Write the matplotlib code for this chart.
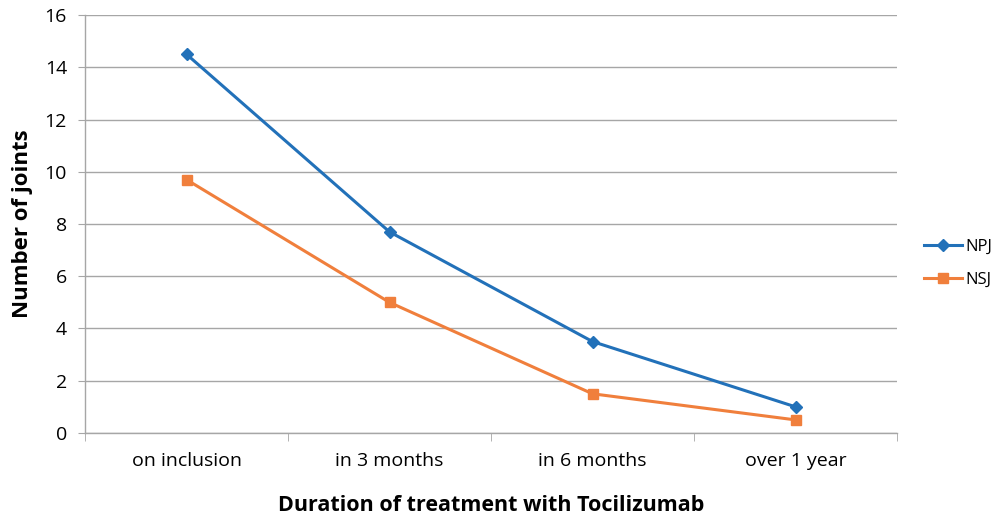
import matplotlib
matplotlib.use('Agg')
import matplotlib.pyplot as plt
from matplotlib.ticker import FixedLocator

plt.rcParams['font.family'] = ['Open Sans', 'DejaVu Sans']

# data
categories = ['on inclusion', 'in 3 months', 'in 6 months', 'over 1 year']
npj = [14.5, 7.7, 3.5, 1.0]
nsj = [9.7, 5.0, 1.5, 0.5]
y_ticks = [0, 2, 4, 6, 8, 10, 12, 14, 16]

blue = '#2271B9'
orange = '#F07F3C'
grid_col = '#A6A6A6'

fig = plt.figure(figsize=(10, 5.21), dpi=100)
ax = fig.add_axes([0.085, 0.169, 0.812, 0.802])

x = list(range(len(categories)))
ax.plot(x, npj, color=blue, lw=2.2, marker='D', ms=6, label='NPJ')
ax.plot(x, nsj, color=orange, lw=2.2, marker='s', ms=7, label='NSJ')

ax.set_xlim(-0.5, len(categories) - 0.5)
ax.set_ylim(0, 16)
ax.set_yticks(y_ticks)
ax.yaxis.grid(True, color=grid_col, lw=1)
ax.set_axisbelow(True)

# category labels centred, tick marks at category boundaries
ax.set_xticks(x)
ax.set_xticklabels(categories)
ax.xaxis.set_minor_locator(FixedLocator([i - 0.5 for i in range(len(categories) + 1)]))
ax.tick_params(axis='x', which='major', length=0, pad=14, labelsize=14)
ax.tick_params(axis='x', which='minor', length=6, color=grid_col, direction='out')
ax.tick_params(axis='y', length=5, color=grid_col, labelsize=14, pad=8)

for s in ['top', 'right']:
    ax.spines[s].set_visible(False)
for s in ['left', 'bottom']:
    ax.spines[s].set_color(grid_col)
    ax.spines[s].set_linewidth(1)

ax.set_xlabel('Duration of treatment with Tocilizumab', fontsize=15.5, fontweight='bold', labelpad=18)
ax.set_ylabel('Number of joints', fontsize=16, fontweight='bold', labelpad=8)

ax.legend(loc='center left', bbox_to_anchor=(0.924, 0.495), bbox_transform=fig.transFigure,
          frameon=False, fontsize=12, handlelength=2.3, handletextpad=0.2,
          borderpad=0, borderaxespad=0, labelspacing=1.0)

fig.savefig('out.png', dpi=100)
